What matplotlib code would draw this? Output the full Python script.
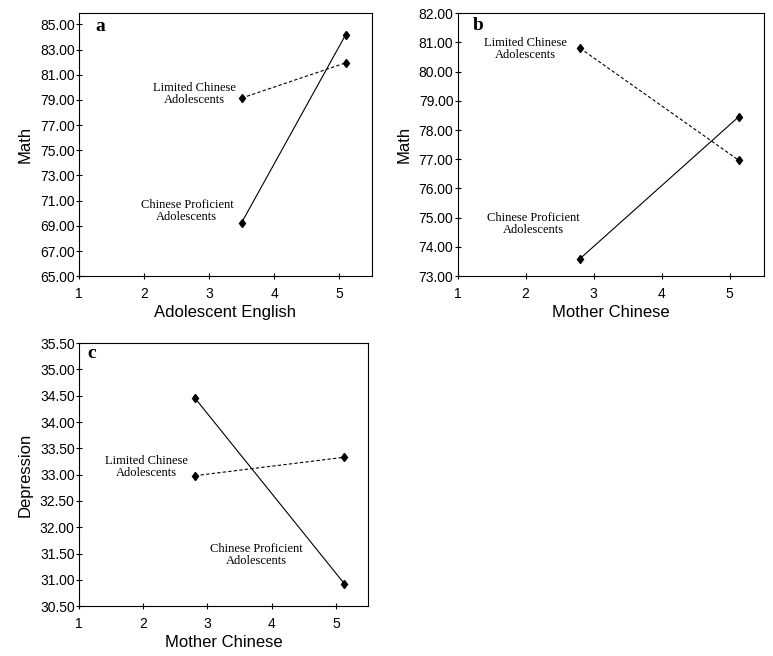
import matplotlib
matplotlib.use("Agg")
import matplotlib.pyplot as plt

# panel a: Math by Adolescent English
a_x = [3.5, 5.1]
a_limited = [79.15, 81.95]
a_proficient = [69.25, 84.2]

# panel b: Math by Mother Chinese
b_x = [2.8, 5.13]
b_limited = [80.8, 76.97]
b_proficient = [73.6, 78.45]

# panel c: Depression by Mother Chinese
c_x = [2.81, 5.13]
c_limited = [32.98, 33.33]
c_proficient = [34.45, 30.93]

a_yticks = [65, 67, 69, 71, 73, 75, 77, 79, 81, 83, 85]
b_yticks = [73, 74, 75, 76, 77, 78, 79, 80, 81, 82]
c_yticks = [30.5, 31.0, 31.5, 32.0, 32.5, 33.0, 33.5, 34.0, 34.5, 35.0, 35.5]
xticks = [1, 2, 3, 4, 5]

SANS = "Liberation Sans"
SERIF = "Liberation Serif"

fig = plt.figure(figsize=(7.73, 6.56), dpi=100)


def draw_panel(rect, x, limited, proficient, yticks, ylim, xlabel, ylabel,
               letter, letter_pos, lim_pos, prof_pos):
    ax = fig.add_axes(rect)
    ax.plot(x, limited, color="black", lw=0.8, ls=(0, (3, 2)),
            marker="d", ms=4.5, mfc="black", mec="black")
    ax.plot(x, proficient, color="black", lw=0.8, ls="-",
            marker="d", ms=4.5, mfc="black", mec="black")
    ax.set_xlim(1, 5.5)
    ax.set_ylim(*ylim)
    ax.set_xticks(xticks)
    ax.set_yticks(yticks)
    ax.set_yticklabels([f"{v:.2f}" for v in yticks], family=SANS, fontsize=10)
    ax.set_xticklabels([str(v) for v in xticks], family=SANS, fontsize=10)
    ax.tick_params(direction="inout", length=5, width=0.8)
    ax.tick_params(axis="y", pad=0.5)
    ax.tick_params(axis="x", pad=5)
    for s in ax.spines.values():
        s.set_linewidth(0.8)
    ax.set_xlabel(xlabel, family=SANS, fontsize=12, labelpad=3)
    ax.set_ylabel(ylabel, family=SANS, fontsize=12, labelpad=5)
    ax.text(letter_pos[0], letter_pos[1], letter, transform=ax.transAxes,
            family=SERIF, fontweight="bold", fontsize=14, va="center", ha="left")
    ax.text(lim_pos[0], lim_pos[1], "Limited Chinese\nAdolescents",
            family=SERIF, fontsize=9, ha="center", va="center", linespacing=1.0)
    ax.text(prof_pos[0], prof_pos[1], "Chinese Proficient\nAdolescents",
            family=SERIF, fontsize=9, ha="center", va="center", linespacing=1.0)
    return ax


draw_panel([0.102, 0.579, 0.379, 0.401], a_x, a_limited, a_proficient,
           a_yticks, (65, 85.9), "Adolescent English", "Math",
           "a", (0.055, 0.948), (2.77, 79.5), (2.66, 70.2))

draw_panel([0.592, 0.579, 0.396, 0.401], b_x, b_limited, b_proficient,
           b_yticks, (73, 82), "Mother Chinese", "Math",
           "b", (0.048, 0.952), (2.0, 80.76), (2.12, 74.77))

draw_panel([0.102, 0.076, 0.374, 0.401], c_x, c_limited, c_proficient,
           c_yticks, (30.5, 35.5), "Mother Chinese", "Depression",
           "c", (0.028, 0.96), (2.05, 33.14), (3.76, 31.48))

fig.savefig("out.png", dpi=100)
